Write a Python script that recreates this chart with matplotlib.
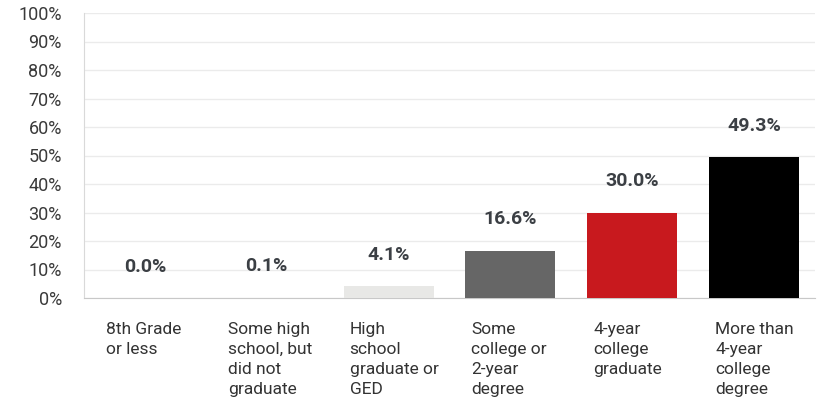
import numpy as np
import matplotlib
matplotlib.use("Agg")
import matplotlib.pyplot as plt

# data
categories = [
    "8th Grade\nor less",
    "Some high\nschool, but\ndid not\ngraduate",
    "High\nschool\ngraduate or\nGED",
    "Some\ncollege or\n2-year\ndegree",
    "4-year\ncollege\ngraduate",
    "More than\n4-year\ncollege\ndegree",
]
values = [0.0, 0.1, 4.1, 16.6, 30.0, 49.3]
colors = ["#e8e8e6", "#e8e8e6", "#e8e8e6", "#666666", "#c8191e", "#000000"]
yticks = list(range(0, 101, 10))

plt.rcParams["font.family"] = ["Roboto", "DejaVu Sans"]

fig = plt.figure(figsize=(8.17, 4.01), dpi=100)
ax = fig.add_axes([84 / 817, 103 / 401, 731 / 817, 285 / 401])

x = np.arange(len(values))
ax.bar(x, values, width=0.74, color=colors, zorder=3)

for i, v in enumerate(values):
    ax.annotate(f"{v:.1f}%", (i, v), xytext=(0, 22.5), textcoords="offset points",
                ha="center", va="center", fontsize=14, fontweight="bold",
                color="#3b3f44", zorder=4)
    ax.text(i - 0.32, -0.085, categories[i], transform=ax.get_xaxis_transform(),
            ha="left", va="top", fontsize=12.5, color="#333333", linespacing=1.42)

ax.set_xlim(-0.5, len(values) - 0.5)
ax.set_ylim(0, 100)
ax.set_yticks(yticks)
ax.set_yticklabels([f"{t}%" for t in yticks], fontsize=13, color="#3a3a3a")
ax.set_xticks([])
ax.tick_params(axis="y", length=0, pad=16)
ax.grid(axis="y", color="#ebebeb", linewidth=1, zorder=0)

for s in ["top", "right"]:
    ax.spines[s].set_visible(False)
ax.spines["left"].set_color("#d9d9d9")
ax.spines["bottom"].set_color("#c8c8c8")

fig.savefig("out.png", dpi=100)
